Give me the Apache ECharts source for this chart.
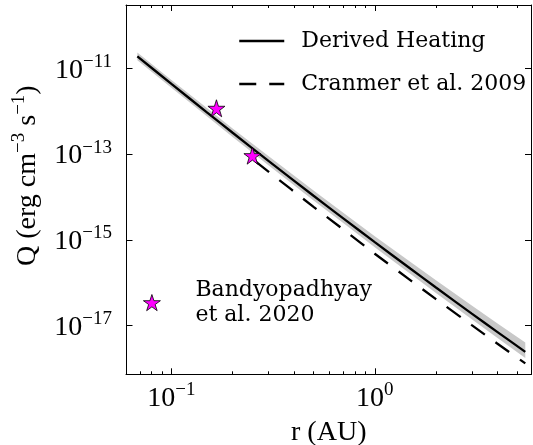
<!DOCTYPE html>
<html>
<head>
<meta charset="utf-8">
<script src="https://cdn.jsdelivr.net/npm/echarts@6/dist/echarts.min.js"></script>
<style>
html, body { margin: 0; padding: 0; background: #fff; }
#main { width: 533px; height: 445px; }
</style>
</head>
<body>
<div id="main"></div>
<script>
// r (AU) and Q (erg cm^-3 s^-1)
var heatR = [0.068, 0.1, 0.15, 0.2, 0.3, 0.5, 0.7, 1, 1.5, 2, 3, 4, 5.5];
var heatQ = [1.9e-11, 4.33e-12, 9.27e-13, 3.15e-13, 6.97e-14, 1.07e-14, 3.18e-15, 8.87e-16, 2.12e-16, 7.76e-17, 1.91e-17, 7.18e-18, 2.45e-18];
var bandHi = [2.34e-11, 5.32e-12, 1.17e-12, 3.96e-13, 8.97e-14, 1.41e-14, 4.29e-15, 1.22e-15, 3.06e-16, 1.15e-16, 2.96e-17, 1.14e-17, 4.06e-18];
var bandLo = [1.55e-11, 3.52e-12, 7.53e-13, 2.5e-13, 5.53e-14, 8.32e-15, 2.47e-15, 6.73e-16, 1.61e-16, 5.75e-17, 1.42e-17, 5.2e-18, 1.77e-18];

var cranR = [0.26, 0.3, 0.5, 0.7, 1, 1.5, 2, 3, 4, 5.5];
var cranQ = [6.65e-14, 3.92e-14, 5.89e-15, 1.75e-15, 4.76e-16, 1.14e-16, 4.17e-17, 1.03e-17, 3.85e-18, 1.32e-18];

var obsR = [0.1665, 0.2502];
var obsQ = [1.17e-12, 9.2e-14];

var xLim = [0.0598, 5.9];
var yLim = [7.36e-19, 2.99e-10];
var xMajor = [0.1, 1];
var xMinor = [0.07, 0.08, 0.09, 0.2, 0.3, 0.4, 0.5, 0.6, 0.7, 0.8, 0.9, 2, 3, 4, 5];
var yMajor = [1e-17, 1e-15, 1e-13, 1e-11];

var lg = function (v) { return Math.log10(v); };
var pairs = function (xs, ys) {
    return xs.map(function (x, i) { return [lg(x), lg(ys[i])]; });
};

var starPath = 'path://M50,0L61.23,34.55L97.55,34.55L68.17,55.9L79.39,90.45L50,69.1L20.61,90.45L31.83,55.9L2.45,34.55L38.77,34.55Z';
var serif = 'Liberation Serif';

var powLabel = function (v) {
    var e = Math.round(v);
    return '{b|10}{s|' + (e < 0 ? '\u2212' : '') + Math.abs(e) + '}';
};
var powRich = {
    b: { fontFamily: serif, fontSize: 28, lineHeight: 32, color: '#000', verticalAlign: 'bottom' },
    s: { fontFamily: serif, fontSize: 19, lineHeight: 19, color: '#000', verticalAlign: 'top' }
};

var frame = { show: true, onZero: false, lineStyle: { color: '#000', width: 1 } };

function tickAxis(pos, vals, len, showLine, lim) {
    return {
        type: 'value', position: pos,
        min: lg(lim[0]), max: lg(lim[1]),
        axisLine: showLine ? frame : { show: false, onZero: false },
        axisTick: { show: true, inside: true, length: len, customValues: vals.map(lg), lineStyle: { color: '#000', width: 1 } },
        axisLabel: { show: false },
        splitLine: { show: false }
    };
}

var bottomAxis = tickAxis('bottom', xMajor, 6, true, xLim);
bottomAxis.axisLabel = {
    show: true, customValues: xMajor.map(lg), margin: 6,
    formatter: powLabel, rich: powRich
};
bottomAxis.name = 'r (AU)';
bottomAxis.nameLocation = 'middle';
bottomAxis.nameGap = 44;
bottomAxis.nameTextStyle = { fontFamily: serif, fontSize: 28, color: '#000' };

var leftAxis = tickAxis('left', yMajor, 6.5, true, yLim);
leftAxis.axisLabel = {
    show: true, customValues: yMajor.map(lg), margin: 14,
    formatter: powLabel, rich: powRich
};
leftAxis.name = '{n|Q (erg cm}{s|\u22123}{n| s}{s|\u22121}{n|)}';
leftAxis.nameLocation = 'middle';
leftAxis.nameRotate = 90;
leftAxis.nameGap = 84;
leftAxis.nameTextStyle = {
    padding: [0, 0, 0, 28],
    rich: {
        n: { fontFamily: serif, fontSize: 28, lineHeight: 32, color: '#000', verticalAlign: 'bottom' },
        s: { fontFamily: serif, fontSize: 19, lineHeight: 19, color: '#000', verticalAlign: 'top' }
    }
};

// shaded uncertainty band round the derived heating curve
function renderBand(params, api) {
    var upper = heatR.map(function (r, i) { return api.coord([lg(r), lg(bandHi[i])]); });
    var lower = heatR.map(function (r, i) { return api.coord([lg(r), lg(bandLo[i])]); }).reverse();
    return {
        type: 'polygon',
        shape: { points: upper.concat(lower) },
        style: { fill: '#c8c8c8', stroke: 'none' },
        silent: true
    };
}

var myChart = echarts.init(document.getElementById('main'));

var option = {
    animation: false,
    backgroundColor: '#fff',
    grid: { left: 126, right: 1.5, top: 5, bottom: 70.7, outerBoundsMode: 'none', containLabel: false },
    legend: [
        {
            data: ['Derived Heating', 'Cranmer et al. 2009'],
            orient: 'vertical', left: 238, top: 30, padding: 0,
            itemWidth: 45, itemHeight: 14, itemGap: 21,
            lineStyle: { width: 2.5 },
            itemStyle: { opacity: 0 },
            textStyle: { fontFamily: 'DejaVu Serif', fontSize: 22, lineHeight: 22, color: '#000', padding: [0, 0, 0, 12] },
            selectedMode: false
        },
        {
            data: ['Bandyopadhyay et al. 2020'],
            orient: 'vertical', left: 143, top: 275, padding: 0,
            itemWidth: 17, itemHeight: 17,
            itemStyle: { color: '#ff00ff', borderColor: '#000', borderWidth: 0.8 },
            formatter: function () { return 'Bandyopadhyay\net al. 2020'; },
            textStyle: { fontFamily: 'DejaVu Serif', fontSize: 22, lineHeight: 25.6, color: '#000', padding: [0, 0, 4, 30] },
            selectedMode: false
        }
    ],
    xAxis: [
        bottomAxis,
        tickAxis('bottom', xMinor, 3, false, xLim),
        tickAxis('top', xMajor, 6, true, xLim),
        tickAxis('top', xMinor, 3, false, xLim)
    ],
    yAxis: [
        leftAxis,
        tickAxis('right', yMajor, 6.5, true, yLim)
    ],
    series: [
        {
            name: 'band', type: 'custom',
            data: [0], renderItem: renderBand,
            clip: true, silent: true, z: 1
        },
        {
            name: 'Derived Heating', type: 'line',
            data: pairs(heatR, heatQ), symbol: 'none', smooth: 0.2,
            lineStyle: { color: '#000', width: 2.3 },
            itemStyle: { color: '#000' }, z: 3
        },
        {
            name: 'Cranmer et al. 2009', type: 'line',
            data: pairs(cranR, cranQ), symbol: 'none', smooth: 0.2,
            lineStyle: { color: '#000', width: 2.3, type: [17, 13] },
            itemStyle: { color: '#000' }, z: 3
        },
        {
            name: 'Bandyopadhyay et al. 2020', type: 'scatter',
            data: pairs(obsR, obsQ), symbol: starPath, symbolSize: 17,
            itemStyle: { color: '#ff00ff', borderColor: '#000', borderWidth: 0.8, opacity: 1 },
            z: 5
        }
    ]
};

myChart.setOption(option);
window.addEventListener('resize', function () {
    myChart.resize();
});
</script>
</body>
</html>
